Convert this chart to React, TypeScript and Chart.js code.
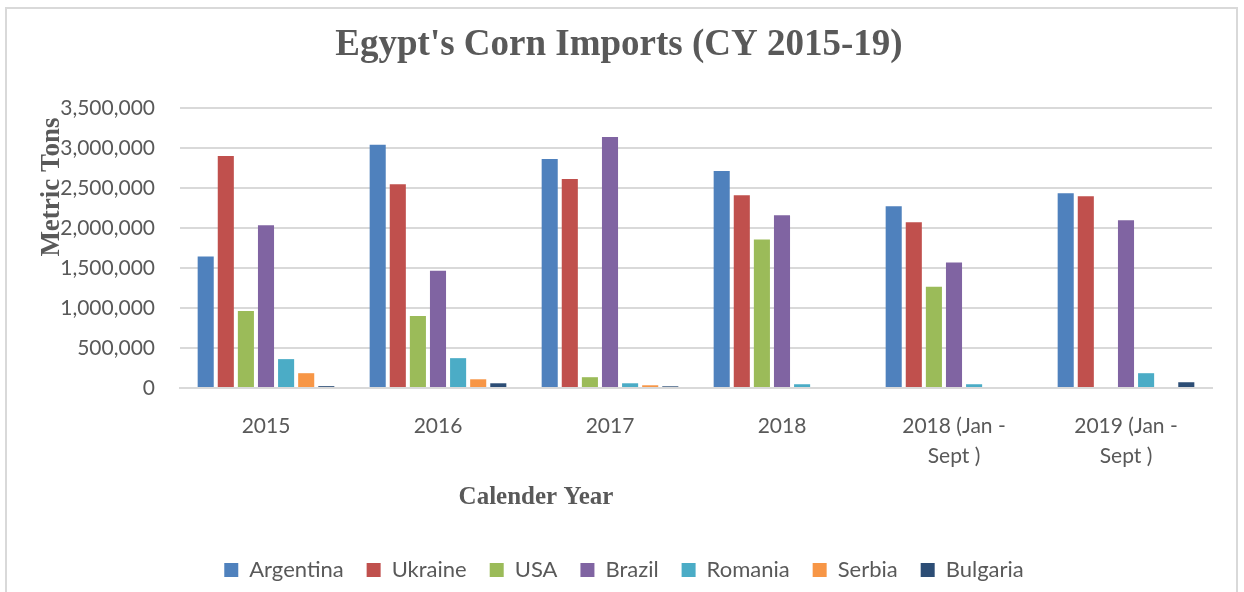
import React, { useEffect, useRef } from "react";
import { Chart, registerables } from "chart.js";

Chart.register(...registerables);

const TITLE = "Egypt's Corn Imports (CY 2015-19)";
const Y_TITLE = "Metric Tons";
const X_TITLE = "Calender Year";

const categories: (string | string[])[] = [
  "2015",
  "2016",
  "2017",
  "2018",
  ["2018 (Jan -", "Sept )"],
  ["2019 (Jan -", "Sept )"],
];

const argentina = [1643000, 3040000, 2862000, 2712000, 2272000, 2435000];
const ukraine = [2900000, 2548000, 2611000, 2410000, 2071000, 2397000];
const usa = [964000, 901000, 135000, 1857000, 1266000, 0];
const brazil = [2033000, 1467000, 3139000, 2159000, 1568000, 2096000];
const romania = [361000, 373000, 59000, 47000, 47000, 185000];
const serbia = [185000, 109000, 34000, 0, 0, 0];
const bulgaria = [23000, 59000, 21000, 0, 0, 72000];

const seriesNames = ["Argentina", "Ukraine", "USA", "Brazil", "Romania", "Serbia", "Bulgaria"];
const seriesValues = [argentina, ukraine, usa, brazil, romania, serbia, bulgaria];
const seriesColors = ["#4F81BD", "#C0504D", "#9BBB59", "#8064A2", "#4BACC6", "#F79646", "#2C4D75"];

const yMin = 0;
const yMax = 3500000;
const yStep = 500000;

const GREY = "#595959";
const GRID = "#d9d9d9";

const textPlugin = {
  id: "extraTexts",
  afterDraw(chart: any) {
    const ctx = chart.ctx as CanvasRenderingContext2D;
    ctx.save();
    ctx.fillStyle = GREY;
    ctx.textAlign = "center";
    ctx.textBaseline = "middle";
    ctx.font = "bold 37px 'Liberation Serif', 'Times New Roman', serif";
    ctx.fillText(TITLE, 619, 45);
    ctx.font = "bold 25px 'Liberation Serif', 'Times New Roman', serif";
    ctx.fillText(X_TITLE, 536, 498);
    ctx.translate(52, 187);
    ctx.rotate(-Math.PI / 2);
    ctx.font = "bold 27px 'Liberation Serif', 'Times New Roman', serif";
    ctx.fillText(Y_TITLE, 0, 0);
    ctx.restore();
  },
};

export default function App() {
  const ref = useRef<HTMLCanvasElement | null>(null);

  useEffect(() => {
    if (!ref.current) return;
    const chart = new Chart(ref.current, {
      type: "bar",
      data: {
        labels: categories as any,
        datasets: seriesNames.map((name, i) => ({
          label: name,
          data: seriesValues[i],
          backgroundColor: seriesColors[i],
          borderWidth: 0,
          categoryPercentage: 0.818,
          barPercentage: 0.8,
        })),
      },
      options: {
        responsive: false,
        animation: false,
        layout: { padding: { left: 36, right: 32, top: 108, bottom: 29 } },
        plugins: {
          title: { display: false },
          tooltip: { enabled: false },
          legend: {
            display: true,
            position: "bottom",
            labels: {
              color: GREY,
              font: { family: "Lato", size: 22 },
              boxWidth: 14,
              boxHeight: 14,
              padding: 23,
            },
          },
        },
        scales: {
          x: {
            grid: { display: false, drawTicks: false },
            border: { display: true, color: GRID, width: 2 },
            ticks: {
              color: GREY,
              font: { family: "Lato", size: 21, lineHeight: 1.45 },
              padding: 23,
              maxRotation: 0,
              autoSkip: false,
            },
            afterFit: (scale: any) => {
              scale.height = 148;
            },
          },
          y: {
            min: yMin,
            max: yMax,
            grid: { color: GRID, lineWidth: 2, drawTicks: false },
            border: { display: false },
            ticks: {
              stepSize: yStep,
              color: GREY,
              font: { family: "Lato", size: 21 },
              padding: 25,
              callback: (v: any) => Number(v).toLocaleString("en-US"),
            },
            afterFit: (scale: any) => {
              scale.width = 144;
            },
          },
        },
      },
      plugins: [textPlugin],
    });
    return () => chart.destroy();
  }, []);

  return (
    <div
      style={{
        position: "fixed",
        left: 0,
        top: 0,
        width: 1244,
        height: 592,
        overflow: "hidden",
        background: "#ffffff",
      }}
    >
      <div
        style={{
          position: "absolute",
          left: 5,
          top: 7,
          width: 1229,
          height: 700,
          border: "2px solid #d9d9d9",
          boxSizing: "content-box",
        }}
      />
      <canvas
        ref={ref}
        width={1244}
        height={620}
        style={{ position: "absolute", left: 0, top: 0, width: 1244, height: 620 }}
      />
    </div>
  );
}
